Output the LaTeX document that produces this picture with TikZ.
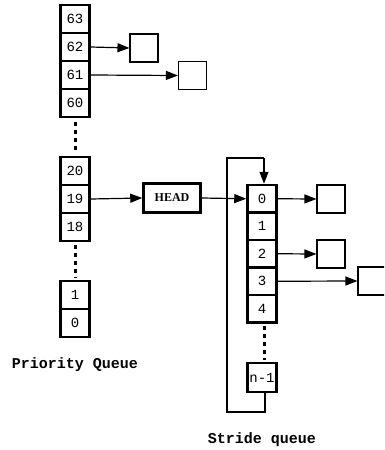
\documentclass[tikz,border=0pt]{standalone}
\usepackage{fontspec}
\setmonofont{Liberation Mono}
\newfontfamily\headfont{Liberation Serif}
\usetikzlibrary{arrows.meta}
\begin{document}
\begin{tikzpicture}[x=1pt,y=-1pt,
  cell/.style={draw,line width=2.5pt,minimum width=29pt,minimum height=28pt,inner sep=0pt,font=\ttfamily\fontsize{14}{14}\selectfont},
  scell/.style={cell,minimum height=27.5pt},
  tgt/.style={draw,line width=1.1pt,minimum width=28pt,minimum height=28pt,inner sep=0pt},
  link/.style={line width=1.2pt,-{Triangle[length=12pt,width=9pt]}},
  loopline/.style={line width=1.4pt},
  dots/.style={line width=3pt,dash pattern=on 4pt off 4pt},
  lbl/.style={font=\ttfamily\bfseries\fontsize{15}{15}\selectfont}]
\useasboundingbox (0,0) rectangle (384,450);
\clip (0,0) rectangle (384,450);
% priority queue
\node[cell] (p63) at (75,19) {63};
\node[cell] (p62) at (75,47) {62};
\node[cell] (p61) at (75,75) {61};
\node[cell] (p60) at (75,103) {60};
\node[cell] (p20) at (75,171) {20};
\node[cell] (p19) at (75,199) {19};
\node[cell] (p18) at (75,227) {18};
\node[cell] (p1) at (75,295) {1};
\node[cell] (p0) at (75,323) {0};
\coordinate (d1a) at (75,122); \coordinate (d1b) at (75,153);
\coordinate (d2a) at (75,245); \coordinate (d2b) at (75,278);
\draw[dots] (d1a) -- (d1b);
\draw[dots] (d2a) -- (d2b);
\node[tgt] (t62) at (144,48) {};
\node[tgt] (t61) at (192.5,75.5) {};
\draw[link] (p62.east) -- (t62.west);
\draw[link] (p61.east) -- (t61.west);
% head
\node[draw,line width=2.5pt,minimum width=57pt,minimum height=29pt,inner sep=0pt,font=\headfont\bfseries\fontsize{12}{12}\selectfont] (head) at (172,198) {HEAD};
\draw[link] (p19.east) -- (head.west);
% stride queue
\node[scell] (s0) at (262,198.75) {0};
\node[scell] (s1) at (262,226.25) {1};
\node[scell] (s2) at (262,253.75) {2};
\node[scell] (s3) at (262,281.25) {3};
\node[scell] (s4) at (262,308.75) {4};
\node[cell,minimum height=29pt] (sn) at (262,377.5) {n-1};
\coordinate (d3a) at (264,326); \coordinate (d3b) at (264,360);
\draw[dots] (d3a) -- (d3b);
\draw[link] (head.east) -- (s0.west);
\coordinate (lt1) at (264,158); \coordinate (lt2) at (227,158);
\coordinate (lb1) at (227,412); \coordinate (lb2) at (265,412);
\draw[loopline] (sn.south -| lb2) -- (lb2) -- (lb1) -- (lt2) -- (lt1);
\draw[link] (lt1) -- (s0.north -| lt1);
\node[tgt] (t0) at (331,199) {};
\node[tgt] (t2) at (331,254) {};
\node[tgt] (t3) at (372,281) {};
\draw[link] (s0.east) -- (t0.west);
\draw[link] (s2.east) -- (t2.west);
\draw[link] (s3.east) -- (t3.west);
% labels
\node[lbl] (plabel) at (75,365) {Priority Queue};
\node[lbl] (slabel) at (262,440) {Stride queue};
\end{tikzpicture}
\end{document}
